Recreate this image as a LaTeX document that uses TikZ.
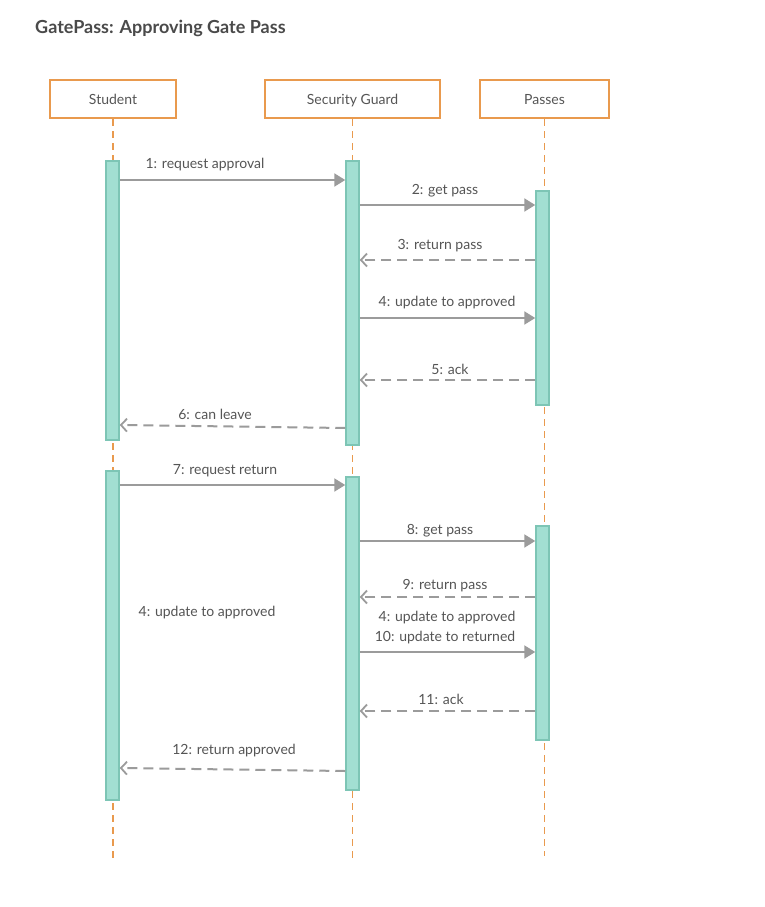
\documentclass[tikz,border=0pt]{standalone}
\usepackage{fontspec}
\setmainfont{Lato}
\usetikzlibrary{arrows.meta}
\definecolor{headorange}{HTML}{E99A4E}
\definecolor{barfill}{HTML}{A2DFD2}
\definecolor{barline}{HTML}{7DC5B5}
\definecolor{msggray}{HTML}{9B9B9B}
\definecolor{txtgray}{HTML}{555555}
\definecolor{titlegray}{HTML}{4A4A4A}
\tikzset{
  head/.style={draw=headorange, line width=2pt, fill=white, minimum height=38pt,
    inner sep=0pt, text=txtgray, font=\fontsize{14}{16}\selectfont,
    text height=13pt, text depth=2pt},
  lifeline/.style={draw=headorange, line width=1.6pt, dash pattern=on 7pt off 5pt},
  bar/.style={draw=barline, fill=barfill, line width=1.5pt, minimum width=13pt,
    inner sep=0pt, anchor=north},
  callmsg/.style={draw=msggray, line width=2pt, -{Triangle[length=11pt,width=13pt]}},
  retmsg/.style={draw=msggray, line width=2pt, dash pattern=on 10pt off 6pt,
    -{Straight Barb[length=6pt,width=13pt,line width=1.8pt]}},
  lbl/.style={text=txtgray, font=\fontsize{14}{16}\selectfont, inner sep=0pt,
    text height=10pt, text depth=3pt, yshift=-2pt}
}
\begin{document}
\begin{tikzpicture}[x=1pt,y=-1pt]
\path[use as bounding box, fill=white] (0,0) rectangle (765,907);

% title
\node[anchor=west, text=titlegray, font=\fontsize{18}{21}\bfseries\selectfont, inner sep=0pt,
  text height=13pt, text depth=4pt]
  (title) at (35,29) {GatePass: Approving Gate Pass};

% participants
\node[head, minimum width=126pt] (student) at (113,99) {Student};
\node[head, minimum width=175pt] (guard) at (352.5,99) {Security Guard};
\node[head, minimum width=129pt] (passes) at (544.5,99) {Passes};

% lifeline ends
\coordinate (sEnd) at (113,858);
\coordinate (gEnd) at (352.5,858);
\coordinate (pEnd) at (544.5,856);
\draw[lifeline] (student.south) -- (sEnd);
\draw[lifeline] (guard.south) -- (gEnd);
\draw[lifeline] (passes.south) -- (pEnd);

% activation bars
\node[bar, minimum height=279pt] (s1) at (112.5,160) {};
\node[bar, minimum height=329pt] (s2) at (112.5,470) {};
\node[bar, minimum height=284pt] (g1) at (352.5,160) {};
\node[bar, minimum height=313pt] (g2) at (352.5,476) {};
\node[bar, minimum height=214pt] (p1) at (542.5,190) {};
\node[bar, minimum height=214pt] (p2) at (542.5,525) {};

% message levels
\coordinate (m1) at (0,180);
\coordinate (m2) at (0,205);
\coordinate (m3) at (0,260);
\coordinate (m4) at (0,318);
\coordinate (m5) at (0,380);
\coordinate (m6a) at (0,428);
\coordinate (m6b) at (0,425);
\coordinate (m7) at (0,485);
\coordinate (m8) at (0,541);
\coordinate (m9) at (0,597);
\coordinate (m10) at (0,652);
\coordinate (m11) at (0,711);
\coordinate (m12a) at (0,771);
\coordinate (m12b) at (0,768);

% messages
\draw[callmsg] (s1.east |- m1) -- (g1.west |- m1);
\draw[callmsg] (g1.east |- m2) -- (p1.west |- m2);
\draw[retmsg] (p1.west |- m3) -- (g1.east |- m3);
\draw[callmsg] (g1.east |- m4) -- (p1.west |- m4);
\draw[retmsg] (p1.west |- m5) -- (g1.east |- m5);
\draw[retmsg] (g1.west |- m6a) -- (s1.east |- m6b);
\draw[callmsg] (s2.east |- m7) -- (g2.west |- m7);
\draw[callmsg] (g2.east |- m8) -- (p2.west |- m8);
\draw[retmsg] (p2.west |- m9) -- (g2.east |- m9);
\draw[callmsg] (g2.east |- m10) -- (p2.west |- m10);
\draw[retmsg] (p2.west |- m11) -- (g2.east |- m11);
\draw[retmsg] (g2.west |- m12a) -- (s2.east |- m12b);

% message labels
\node[lbl] (l1) at (205,163) {1: request approval};
\node[lbl] (l2) at (445,189) {2: get pass};
\node[lbl] (l3) at (440,244) {3: return pass};
\node[lbl] (l4) at (447,301) {4: update to approved};
\node[lbl] (l5) at (450,369) {5: ack};
\node[lbl] (l6) at (215,414) {6: can leave};
\node[lbl] (l7) at (225,469) {7: request return};
\node[lbl] (l8) at (440,529) {8: get pass};
\node[lbl] (l9) at (445,584) {9: return pass};
\node[lbl] (l10a) at (447,616) {4: update to approved};
\node[lbl] (l10) at (445,636) {10: update to returned};
\node[lbl] (l11) at (441,699) {11: ack};
\node[lbl] (l12) at (234,749) {12: return approved};
\node[lbl] (note) at (207,611) {4: update to approved};
\end{tikzpicture}
\end{document}
